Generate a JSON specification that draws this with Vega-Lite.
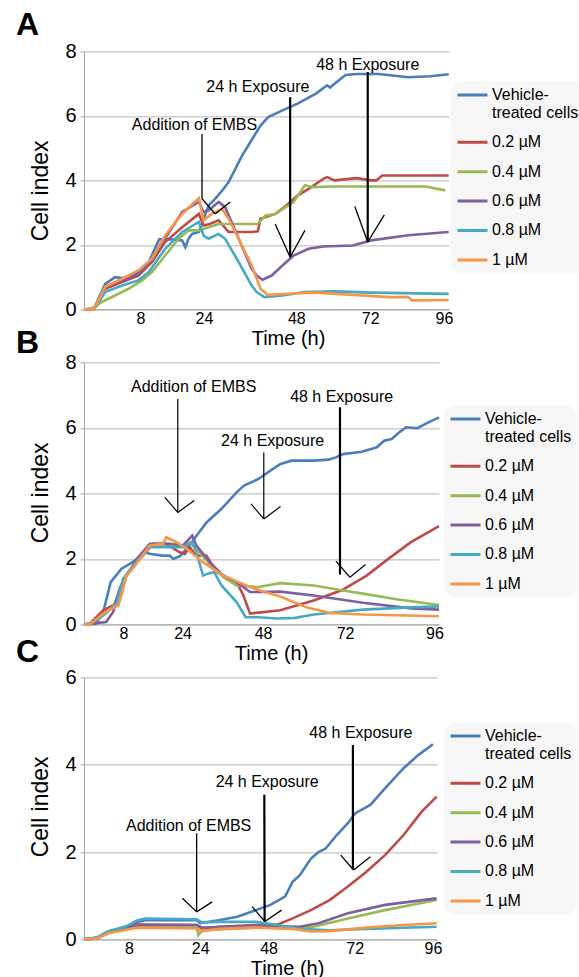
{
 "$schema": "https://vega.github.io/schema/vega-lite/v6.json",
 "padding": {"left": 16, "top": 8.4, "right": 0, "bottom": 0},
 "background": "white",
 "config": {
  "view": {"stroke": null},
  "font": "Liberation Sans",
  "axis": {"labelFont": "Liberation Sans", "titleFont": "Liberation Sans", "labelColor": "#000000", "titleColor": "#000000", "titleFontWeight": "normal", "domainColor": "#a6a6a6", "gridColor": "#b3b3b3", "tickColor": "#a6a6a6"},
  "legend": {"labelFont": "Liberation Sans", "orient": "none", "title": null, "symbolType": "stroke", "symbolSize": 900, "symbolStrokeWidth": 3, "labelFontSize": 16, "labelColor": "#000000", "labelOffset": 3, "labelLimit": 200, "rowPadding": 12.4, "clipHeight": 17, "padding": 5, "fillColor": "#f7f7f7", "cornerRadius": 12},
  "title": {"anchor": "start", "frame": "group", "fontSize": 32, "fontWeight": "bold", "color": "#000000", "font": "Liberation Sans", "baseline": "alphabetic", "dx": -68, "offset": 0}
 },
 "datasets": {
  "A": [
   {"s":"Vehicle-treated cells","t":0,"ci":0},{"s":"Vehicle-treated cells","t":1.4,"ci":0},{"s":"Vehicle-treated cells","t":3.0,"ci":0.79},{"s":"Vehicle-treated cells","t":4.4,"ci":1.0},{"s":"Vehicle-treated cells","t":5.4,"ci":0.97},{"s":"Vehicle-treated cells","t":7.5,"ci":1.12},{"s":"Vehicle-treated cells","t":10.1,"ci":1.47},{"s":"Vehicle-treated cells","t":12.7,"ci":2.17},{"s":"Vehicle-treated cells","t":15.9,"ci":2.17},{"s":"Vehicle-treated cells","t":18.5,"ci":2.14},{"s":"Vehicle-treated cells","t":19.3,"ci":1.93},{"s":"Vehicle-treated cells","t":20.1,"ci":2.19},{"s":"Vehicle-treated cells","t":21,"ci":2.34},{"s":"Vehicle-treated cells","t":22.7,"ci":2.4},{"s":"Vehicle-treated cells","t":23.6,"ci":2.7},{"s":"Vehicle-treated cells","t":25.2,"ci":3.22},{"s":"Vehicle-treated cells","t":26.9,"ci":3.43},{"s":"Vehicle-treated cells","t":29.1,"ci":3.74},{"s":"Vehicle-treated cells","t":30.4,"ci":3.95},{"s":"Vehicle-treated cells","t":33.9,"ci":4.77},{"s":"Vehicle-treated cells","t":38.7,"ci":5.7},{"s":"Vehicle-treated cells","t":40.7,"ci":5.96},{"s":"Vehicle-treated cells","t":44.4,"ci":6.17},{"s":"Vehicle-treated cells","t":48.4,"ci":6.38},{"s":"Vehicle-treated cells","t":54.4,"ci":6.69},{"s":"Vehicle-treated cells","t":58,"ci":6.95},{"s":"Vehicle-treated cells","t":59,"ci":6.88},{"s":"Vehicle-treated cells","t":59.8,"ci":6.95},{"s":"Vehicle-treated cells","t":64,"ci":7.27},{"s":"Vehicle-treated cells","t":67.6,"ci":7.3},{"s":"Vehicle-treated cells","t":74.8,"ci":7.3},{"s":"Vehicle-treated cells","t":84.4,"ci":7.2},{"s":"Vehicle-treated cells","t":91.6,"ci":7.23},{"s":"Vehicle-treated cells","t":97.5,"ci":7.29},
   {"s":"0.2 µM","t":0,"ci":0},{"s":"0.2 µM","t":1.4,"ci":0},{"s":"0.2 µM","t":3,"ci":0.64},{"s":"0.2 µM","t":5.4,"ci":0.85},{"s":"0.2 µM","t":7.7,"ci":1.05},{"s":"0.2 µM","t":10.9,"ci":1.47},{"s":"0.2 µM","t":14.2,"ci":2.09},{"s":"0.2 µM","t":18.5,"ci":2.55},{"s":"0.2 µM","t":22.7,"ci":2.96},{"s":"0.2 µM","t":23.9,"ci":2.6},{"s":"0.2 µM","t":25.5,"ci":2.65},{"s":"0.2 µM","t":27.8,"ci":2.76},{"s":"0.2 µM","t":30.4,"ci":2.4},{"s":"0.2 µM","t":36.4,"ci":2.4},{"s":"0.2 µM","t":38,"ci":2.42},{"s":"0.2 µM","t":38.7,"ci":2.81},{"s":"0.2 µM","t":42.5,"ci":2.96},{"s":"0.2 µM","t":45.4,"ci":3.22},{"s":"0.2 µM","t":48.4,"ci":3.53},{"s":"0.2 µM","t":52,"ci":3.74},{"s":"0.2 µM","t":56.8,"ci":4.05},{"s":"0.2 µM","t":58,"ci":4.1},{"s":"0.2 µM","t":60.4,"ci":4.0},{"s":"0.2 µM","t":67.6,"ci":4.07},{"s":"0.2 µM","t":72.3,"ci":4.0},{"s":"0.2 µM","t":74,"ci":4.0},{"s":"0.2 µM","t":75.9,"ci":4.15},{"s":"0.2 µM","t":97.5,"ci":4.15},
   {"s":"0.4 µM","t":0,"ci":0},{"s":"0.4 µM","t":1.4,"ci":0.05},{"s":"0.4 µM","t":2.5,"ci":0.23},{"s":"0.4 µM","t":4.4,"ci":0.43},{"s":"0.4 µM","t":6.3,"ci":0.64},{"s":"0.4 µM","t":8.4,"ci":0.9},{"s":"0.4 µM","t":10.9,"ci":1.16},{"s":"0.4 µM","t":14.2,"ci":1.67},{"s":"0.4 µM","t":17.6,"ci":2.19},{"s":"0.4 µM","t":20.1,"ci":2.45},{"s":"0.4 µM","t":22.7,"ci":2.45},{"s":"0.4 µM","t":25.2,"ci":2.55},{"s":"0.4 µM","t":27.8,"ci":2.65},{"s":"0.4 µM","t":36.4,"ci":2.65},{"s":"0.4 µM","t":38,"ci":2.65},{"s":"0.4 µM","t":40,"ci":2.91},{"s":"0.4 µM","t":42.5,"ci":2.96},{"s":"0.4 µM","t":47.3,"ci":3.33},{"s":"0.4 µM","t":50.8,"ci":3.85},{"s":"0.4 µM","t":53.2,"ci":3.79},{"s":"0.4 µM","t":60,"ci":3.81},{"s":"0.4 µM","t":90,"ci":3.81},{"s":"0.4 µM","t":96.4,"ci":3.69},
   {"s":"0.6 µM","t":0,"ci":0},{"s":"0.6 µM","t":1.4,"ci":0},{"s":"0.6 µM","t":3,"ci":0.7},{"s":"0.6 µM","t":5.4,"ci":0.9},{"s":"0.6 µM","t":7.7,"ci":1.1},{"s":"0.6 µM","t":10.9,"ci":1.55},{"s":"0.6 µM","t":14.2,"ci":2.2},{"s":"0.6 µM","t":18.5,"ci":3.02},{"s":"0.6 µM","t":22.7,"ci":3.33},{"s":"0.6 µM","t":23.9,"ci":3.02},{"s":"0.6 µM","t":25.2,"ci":3.07},{"s":"0.6 µM","t":27.8,"ci":3.33},{"s":"0.6 µM","t":29.5,"ci":3.17},{"s":"0.6 µM","t":33,"ci":2.2},{"s":"0.6 µM","t":36.4,"ci":1.26},{"s":"0.6 µM","t":37.7,"ci":1.05},{"s":"0.6 µM","t":39.2,"ci":0.92},{"s":"0.6 µM","t":41.6,"ci":1.05},{"s":"0.6 µM","t":44.4,"ci":1.36},{"s":"0.6 µM","t":47.3,"ci":1.67},{"s":"0.6 µM","t":52,"ci":1.88},{"s":"0.6 µM","t":56.8,"ci":1.95},{"s":"0.6 µM","t":66.4,"ci":1.98},{"s":"0.6 µM","t":72.3,"ci":2.14},{"s":"0.6 µM","t":84.4,"ci":2.3},{"s":"0.6 µM","t":97.5,"ci":2.4},
   {"s":"0.8 µM","t":0,"ci":0},{"s":"0.8 µM","t":1.4,"ci":0},{"s":"0.8 µM","t":3,"ci":0.54},{"s":"0.8 µM","t":5.4,"ci":0.74},{"s":"0.8 µM","t":7.7,"ci":0.9},{"s":"0.8 µM","t":10.1,"ci":1.16},{"s":"0.8 µM","t":14.2,"ci":1.88},{"s":"0.8 µM","t":18.5,"ci":2.4},{"s":"0.8 µM","t":22.7,"ci":2.71},{"s":"0.8 µM","t":23.9,"ci":2.29},{"s":"0.8 µM","t":25.2,"ci":2.19},{"s":"0.8 µM","t":27.8,"ci":2.34},{"s":"0.8 µM","t":29.5,"ci":2.19},{"s":"0.8 µM","t":33,"ci":1.47},{"s":"0.8 µM","t":36.4,"ci":0.74},{"s":"0.8 µM","t":37.7,"ci":0.54},{"s":"0.8 µM","t":39.7,"ci":0.38},{"s":"0.8 µM","t":44.4,"ci":0.43},{"s":"0.8 µM","t":50.8,"ci":0.54},{"s":"0.8 µM","t":60.4,"ci":0.56},{"s":"0.8 µM","t":72.3,"ci":0.52},{"s":"0.8 µM","t":97.5,"ci":0.48},
   {"s":"1 µM","t":0,"ci":0},{"s":"1 µM","t":1.4,"ci":0},{"s":"1 µM","t":3,"ci":0.7},{"s":"1 µM","t":5.4,"ci":0.95},{"s":"1 µM","t":7.7,"ci":1.21},{"s":"1 µM","t":10.9,"ci":1.57},{"s":"1 µM","t":14.2,"ci":2.29},{"s":"1 µM","t":18.5,"ci":2.96},{"s":"1 µM","t":22.7,"ci":3.45},{"s":"1 µM","t":23.9,"ci":2.76},{"s":"1 µM","t":26,"ci":2.96},{"s":"1 µM","t":28.7,"ci":3.12},{"s":"1 µM","t":30.4,"ci":2.81},{"s":"1 µM","t":33,"ci":2.19},{"s":"1 µM","t":36.4,"ci":1.36},{"s":"1 µM","t":38.7,"ci":0.64},{"s":"1 µM","t":40.6,"ci":0.45},{"s":"1 µM","t":48.4,"ci":0.5},{"s":"1 µM","t":54.4,"ci":0.52},{"s":"1 µM","t":66.4,"ci":0.45},{"s":"1 µM","t":78.1,"ci":0.38},{"s":"1 µM","t":84.4,"ci":0.38},{"s":"1 µM","t":85.6,"ci":0.28},{"s":"1 µM","t":97.5,"ci":0.29}
  ],
  "B": [
   {"s":"Vehicle-treated cells","t":0,"ci":0},{"s":"Vehicle-treated cells","t":2.4,"ci":0.02},{"s":"Vehicle-treated cells","t":3.9,"ci":0.38},{"s":"Vehicle-treated cells","t":5.4,"ci":1.29},{"s":"Vehicle-treated cells","t":7.6,"ci":1.7},{"s":"Vehicle-treated cells","t":10.5,"ci":1.9},{"s":"Vehicle-treated cells","t":13.5,"ci":2.2},{"s":"Vehicle-treated cells","t":15.5,"ci":2.15},{"s":"Vehicle-treated cells","t":18.5,"ci":2.1},{"s":"Vehicle-treated cells","t":20.5,"ci":2.1},{"s":"Vehicle-treated cells","t":21.5,"ci":2.0},{"s":"Vehicle-treated cells","t":23.5,"ci":2.1},{"s":"Vehicle-treated cells","t":26.7,"ci":2.51},{"s":"Vehicle-treated cells","t":31.2,"ci":3.12},{"s":"Vehicle-treated cells","t":35.6,"ci":3.53},{"s":"Vehicle-treated cells","t":40.1,"ci":4.03},{"s":"Vehicle-treated cells","t":42.3,"ci":4.24},{"s":"Vehicle-treated cells","t":46.6,"ci":4.44},{"s":"Vehicle-treated cells","t":50.9,"ci":4.75},{"s":"Vehicle-treated cells","t":53.1,"ci":4.9},{"s":"Vehicle-treated cells","t":56.3,"ci":5.0},{"s":"Vehicle-treated cells","t":62.8,"ci":5.0},{"s":"Vehicle-treated cells","t":67.1,"ci":5.03},{"s":"Vehicle-treated cells","t":69.3,"ci":5.1},{"s":"Vehicle-treated cells","t":71.4,"ci":5.2},{"s":"Vehicle-treated cells","t":76.5,"ci":5.27},{"s":"Vehicle-treated cells","t":80.5,"ci":5.41},{"s":"Vehicle-treated cells","t":82.5,"ci":5.61},{"s":"Vehicle-treated cells","t":84.5,"ci":5.66},{"s":"Vehicle-treated cells","t":86.5,"ci":5.86},{"s":"Vehicle-treated cells","t":88.4,"ci":6.02},{"s":"Vehicle-treated cells","t":91.4,"ci":5.99},{"s":"Vehicle-treated cells","t":94.4,"ci":6.17},{"s":"Vehicle-treated cells","t":97.3,"ci":6.32},
   {"s":"0.2 µM","t":0,"ci":0},{"s":"0.2 µM","t":1.2,"ci":0.02},{"s":"0.2 µM","t":3.9,"ci":0.43},{"s":"0.2 µM","t":5.9,"ci":0.58},{"s":"0.2 µM","t":6.9,"ci":0.58},{"s":"0.2 µM","t":8.8,"ci":1.49},{"s":"0.2 µM","t":12.4,"ci":2.0},{"s":"0.2 µM","t":16,"ci":2.46},{"s":"0.2 µM","t":19.6,"ci":2.46},{"s":"0.2 µM","t":23.2,"ci":2.2},{"s":"0.2 µM","t":24.7,"ci":2.15},{"s":"0.2 µM","t":26.1,"ci":2.36},{"s":"0.2 µM","t":28,"ci":2.1},{"s":"0.2 µM","t":31.1,"ci":2.1},{"s":"0.2 µM","t":34.1,"ci":1.6},{"s":"0.2 µM","t":40.1,"ci":1.29},{"s":"0.2 µM","t":42.1,"ci":0.89},{"s":"0.2 µM","t":44.1,"ci":0.33},{"s":"0.2 µM","t":46.6,"ci":0.36},{"s":"0.2 µM","t":53,"ci":0.43},{"s":"0.2 µM","t":62.8,"ci":0.73},{"s":"0.2 µM","t":71,"ci":1.04},{"s":"0.2 µM","t":77.8,"ci":1.49},{"s":"0.2 µM","t":83.6,"ci":2.0},{"s":"0.2 µM","t":89.7,"ci":2.51},{"s":"0.2 µM","t":97.3,"ci":3.0},
   {"s":"0.4 µM","t":0,"ci":0},{"s":"0.4 µM","t":1.2,"ci":0},{"s":"0.4 µM","t":3.9,"ci":0.3},{"s":"0.4 µM","t":5.9,"ci":0.55},{"s":"0.4 µM","t":7.2,"ci":1.0},{"s":"0.4 µM","t":8.8,"ci":1.5},{"s":"0.4 µM","t":12.4,"ci":2.05},{"s":"0.4 µM","t":16,"ci":2.45},{"s":"0.4 µM","t":20.5,"ci":2.45},{"s":"0.4 µM","t":24.1,"ci":2.4},{"s":"0.4 µM","t":26.1,"ci":2.5},{"s":"0.4 µM","t":28.1,"ci":2.3},{"s":"0.4 µM","t":32.1,"ci":1.85},{"s":"0.4 µM","t":36.1,"ci":1.45},{"s":"0.4 µM","t":40.1,"ci":1.19},{"s":"0.4 µM","t":46.6,"ci":1.14},{"s":"0.4 µM","t":53,"ci":1.26},{"s":"0.4 µM","t":62.8,"ci":1.19},{"s":"0.4 µM","t":71,"ci":1.04},{"s":"0.4 µM","t":76.8,"ci":0.94},{"s":"0.4 µM","t":85.8,"ci":0.77},{"s":"0.4 µM","t":97.3,"ci":0.59},
   {"s":"0.6 µM","t":0,"ci":0},{"s":"0.6 µM","t":4.5,"ci":0.07},{"s":"0.6 µM","t":5.9,"ci":0.38},{"s":"0.6 µM","t":7.2,"ci":1.09},{"s":"0.6 µM","t":8.8,"ci":1.5},{"s":"0.6 µM","t":12.4,"ci":2.1},{"s":"0.6 µM","t":15.1,"ci":2.46},{"s":"0.6 µM","t":20.5,"ci":2.46},{"s":"0.6 µM","t":24.1,"ci":2.41},{"s":"0.6 µM","t":26.9,"ci":2.71},{"s":"0.6 µM","t":28.1,"ci":2.41},{"s":"0.6 µM","t":32.1,"ci":1.9},{"s":"0.6 µM","t":36.1,"ci":1.49},{"s":"0.6 µM","t":40.1,"ci":1.29},{"s":"0.6 µM","t":44.1,"ci":0.99},{"s":"0.6 µM","t":46.6,"ci":0.99},{"s":"0.6 µM","t":53,"ci":1.0},{"s":"0.6 µM","t":62.8,"ci":0.88},{"s":"0.6 µM","t":76.8,"ci":0.66},{"s":"0.6 µM","t":89.7,"ci":0.49},{"s":"0.6 µM","t":97.3,"ci":0.45},
   {"s":"0.8 µM","t":0,"ci":0},{"s":"0.8 µM","t":1.2,"ci":0},{"s":"0.8 µM","t":3.9,"ci":0.27},{"s":"0.8 µM","t":6.6,"ci":0.63},{"s":"0.8 µM","t":7.9,"ci":1.39},{"s":"0.8 µM","t":11.5,"ci":1.9},{"s":"0.8 µM","t":15.1,"ci":2.36},{"s":"0.8 µM","t":20.5,"ci":2.36},{"s":"0.8 µM","t":24.1,"ci":2.36},{"s":"0.8 µM","t":26.1,"ci":2.46},{"s":"0.8 µM","t":27.1,"ci":2.5},{"s":"0.8 µM","t":28.1,"ci":2.2},{"s":"0.8 µM","t":30.1,"ci":1.49},{"s":"0.8 µM","t":31.5,"ci":1.55},{"s":"0.8 µM","t":33.4,"ci":1.6},{"s":"0.8 µM","t":35.6,"ci":1.19},{"s":"0.8 µM","t":40.1,"ci":0.68},{"s":"0.8 µM","t":42.8,"ci":0.22},{"s":"0.8 µM","t":46.6,"ci":0.22},{"s":"0.8 µM","t":52,"ci":0.18},{"s":"0.8 µM","t":57.4,"ci":0.2},{"s":"0.8 µM","t":62.8,"ci":0.3},{"s":"0.8 µM","t":76.8,"ci":0.45},{"s":"0.8 µM","t":89.7,"ci":0.52},{"s":"0.8 µM","t":97.3,"ci":0.55},
   {"s":"1 µM","t":0,"ci":0},{"s":"1 µM","t":1.2,"ci":0},{"s":"1 µM","t":3.9,"ci":0.33},{"s":"1 µM","t":6.9,"ci":0.58},{"s":"1 µM","t":8.8,"ci":1.49},{"s":"1 µM","t":11.5,"ci":1.85},{"s":"1 µM","t":15.1,"ci":2.41},{"s":"1 µM","t":18.7,"ci":2.46},{"s":"1 µM","t":19.6,"ci":2.66},{"s":"1 µM","t":22.3,"ci":2.51},{"s":"1 µM","t":25.2,"ci":2.31},{"s":"1 µM","t":30.1,"ci":1.9},{"s":"1 µM","t":36.1,"ci":1.49},{"s":"1 µM","t":44.1,"ci":1.14},{"s":"1 µM","t":46.6,"ci":1.05},{"s":"1 µM","t":53,"ci":0.85},{"s":"1 µM","t":60.7,"ci":0.52},{"s":"1 µM","t":67.6,"ci":0.35},{"s":"1 µM","t":76.8,"ci":0.3},{"s":"1 µM","t":88.4,"ci":0.27},{"s":"1 µM","t":97.3,"ci":0.25}
  ],
  "C": [
   {"s":"Vehicle-treated cells","t":0,"ci":0},{"s":"Vehicle-treated cells","t":2.3,"ci":0.04},{"s":"Vehicle-treated cells","t":4.3,"ci":0.18},{"s":"Vehicle-treated cells","t":7.5,"ci":0.29},{"s":"Vehicle-treated cells","t":9.9,"ci":0.4},{"s":"Vehicle-treated cells","t":11.6,"ci":0.44},{"s":"Vehicle-treated cells","t":15.7,"ci":0.44},{"s":"Vehicle-treated cells","t":23.2,"ci":0.44},{"s":"Vehicle-treated cells","t":24,"ci":0.37},{"s":"Vehicle-treated cells","t":30.5,"ci":0.44},{"s":"Vehicle-treated cells","t":37,"ci":0.52},{"s":"Vehicle-treated cells","t":43.5,"ci":0.67},{"s":"Vehicle-treated cells","t":48.5,"ci":0.79},{"s":"Vehicle-treated cells","t":52.6,"ci":0.98},{"s":"Vehicle-treated cells","t":54.7,"ci":1.32},{"s":"Vehicle-treated cells","t":56.7,"ci":1.47},{"s":"Vehicle-treated cells","t":59.8,"ci":1.85},{"s":"Vehicle-treated cells","t":61.9,"ci":2.0},{"s":"Vehicle-treated cells","t":63.9,"ci":2.08},{"s":"Vehicle-treated cells","t":67,"ci":2.39},{"s":"Vehicle-treated cells","t":70.1,"ci":2.66},{"s":"Vehicle-treated cells","t":72.2,"ci":2.89},{"s":"Vehicle-treated cells","t":76.8,"ci":3.08},{"s":"Vehicle-treated cells","t":81.3,"ci":3.46},{"s":"Vehicle-treated cells","t":87,"ci":3.92},{"s":"Vehicle-treated cells","t":91.5,"ci":4.22},{"s":"Vehicle-treated cells","t":96,"ci":4.47},
   {"s":"0.2 µM","t":0,"ci":0},{"s":"0.2 µM","t":2.3,"ci":0.03},{"s":"0.2 µM","t":4.3,"ci":0.16},{"s":"0.2 µM","t":7.5,"ci":0.27},{"s":"0.2 µM","t":9.9,"ci":0.34},{"s":"0.2 µM","t":23.2,"ci":0.33},{"s":"0.2 µM","t":24.7,"ci":0.24},{"s":"0.2 µM","t":30.5,"ci":0.29},{"s":"0.2 µM","t":43.5,"ci":0.33},{"s":"0.2 µM","t":50.6,"ci":0.34},{"s":"0.2 µM","t":54.7,"ci":0.48},{"s":"0.2 µM","t":59.8,"ci":0.67},{"s":"0.2 µM","t":65,"ci":0.9},{"s":"0.2 µM","t":70.1,"ci":1.21},{"s":"0.2 µM","t":75.6,"ci":1.55},{"s":"0.2 µM","t":81.3,"ci":1.93},{"s":"0.2 µM","t":87,"ci":2.39},{"s":"0.2 µM","t":92.5,"ci":2.92},{"s":"0.2 µM","t":97,"ci":3.27},
   {"s":"0.4 µM","t":0,"ci":0},{"s":"0.4 µM","t":2.3,"ci":0.02},{"s":"0.4 µM","t":4.3,"ci":0.14},{"s":"0.4 µM","t":7.5,"ci":0.24},{"s":"0.4 µM","t":9.9,"ci":0.29},{"s":"0.4 µM","t":23.2,"ci":0.27},{"s":"0.4 µM","t":23.6,"ci":0.1},{"s":"0.4 µM","t":24.7,"ci":0.21},{"s":"0.4 µM","t":43.5,"ci":0.27},{"s":"0.4 µM","t":54.7,"ci":0.27},{"s":"0.4 µM","t":60.5,"ci":0.29},{"s":"0.4 µM","t":70.1,"ci":0.48},{"s":"0.4 µM","t":81.3,"ci":0.67},{"s":"0.4 µM","t":97,"ci":0.9},
   {"s":"0.6 µM","t":0,"ci":0},{"s":"0.6 µM","t":2.3,"ci":0.02},{"s":"0.6 µM","t":4.3,"ci":0.15},{"s":"0.6 µM","t":7.5,"ci":0.26},{"s":"0.6 µM","t":9.9,"ci":0.33},{"s":"0.6 µM","t":23.2,"ci":0.33},{"s":"0.6 µM","t":24.7,"ci":0.27},{"s":"0.6 µM","t":43.5,"ci":0.31},{"s":"0.6 µM","t":56.7,"ci":0.29},{"s":"0.6 µM","t":61.9,"ci":0.37},{"s":"0.6 µM","t":70.1,"ci":0.6},{"s":"0.6 µM","t":81.3,"ci":0.79},{"s":"0.6 µM","t":97,"ci":0.94},
   {"s":"0.8 µM","t":0,"ci":0},{"s":"0.8 µM","t":2.3,"ci":0.04},{"s":"0.8 µM","t":4.3,"ci":0.18},{"s":"0.8 µM","t":7.5,"ci":0.3},{"s":"0.8 µM","t":9.9,"ci":0.44},{"s":"0.8 µM","t":11.6,"ci":0.48},{"s":"0.8 µM","t":23.2,"ci":0.46},{"s":"0.8 µM","t":24.7,"ci":0.39},{"s":"0.8 µM","t":30.5,"ci":0.4},{"s":"0.8 µM","t":43.5,"ci":0.4},{"s":"0.8 µM","t":50.6,"ci":0.33},{"s":"0.8 µM","t":56.7,"ci":0.24},{"s":"0.8 µM","t":65,"ci":0.21},{"s":"0.8 µM","t":75.6,"ci":0.24},{"s":"0.8 µM","t":97,"ci":0.29},
   {"s":"1 µM","t":0,"ci":0},{"s":"1 µM","t":2.3,"ci":0.02},{"s":"1 µM","t":4.3,"ci":0.14},{"s":"1 µM","t":7.5,"ci":0.22},{"s":"1 µM","t":9.9,"ci":0.27},{"s":"1 µM","t":23.2,"ci":0.25},{"s":"1 µM","t":24.7,"ci":0.19},{"s":"1 µM","t":30.5,"ci":0.24},{"s":"1 µM","t":43.5,"ci":0.27},{"s":"1 µM","t":54.7,"ci":0.24},{"s":"1 µM","t":59.8,"ci":0.18},{"s":"1 µM","t":65,"ci":0.19},{"s":"1 µM","t":75.6,"ci":0.27},{"s":"1 µM","t":87,"ci":0.33},{"s":"1 µM","t":97,"ci":0.37}
  ],
  "Aarrow": [
   {"t":23.5,"ci":5.44,"t2":23.5,"ci2":3.43,"w":"thin"},{"t":23.5,"ci":3.43,"t2":26.9,"ci2":2.96,"w":"thin"},{"t":26.9,"ci":2.96,"t2":30.8,"ci2":3.33,"w":"thin"},
   {"t":46.4,"ci":6.58,"t2":46.4,"ci2":1.62,"w":"thick"},{"t":42.5,"ci":2.65,"t2":46.4,"ci2":1.62,"w":"thin"},{"t":46.4,"ci":1.62,"t2":50.8,"ci2":2.45,"w":"thin"},
   {"t":71.2,"ci":7.36,"t2":71.2,"ci2":2.09,"w":"thick"},{"t":67,"ci":3.19,"t2":71.2,"ci2":2.09,"w":"thin"},{"t":71.2,"ci":2.09,"t2":76.6,"ci2":2.93,"w":"thin"}
  ],
  "Atext": [{"txt":"Addition of EMBS","t":21.6,"ci":5.71},{"txt":"24 h Exposure","t":38,"ci":6.89},{"txt":"48 h Exposure","t":71.2,"ci":7.57}],
  "Barrow": [
   {"t":22.7,"ci":6.88,"t2":22.7,"ci2":3.42,"w":"thin"},{"t":19.2,"ci":3.88,"t2":22.7,"ci2":3.42,"w":"thin"},{"t":22.7,"ci":3.42,"t2":27.5,"ci2":3.78,"w":"thin"},
   {"t":48.2,"ci":5.25,"t2":48.2,"ci2":3.22,"w":"thin"},{"t":44.4,"ci":3.68,"t2":48.2,"ci2":3.22,"w":"thin"},{"t":48.2,"ci":3.22,"t2":53.1,"ci2":3.6,"w":"thin"},
   {"t":70.5,"ci":6.63,"t2":70.5,"ci2":1.52,"w":"thick"},{"t":69.3,"ci":1.93,"t2":73.3,"ci2":1.44,"w":"thin"},{"t":73.3,"ci":1.44,"t2":77.5,"ci2":1.83,"w":"thin"}
  ],
  "Btext": [{"txt":"Addition of EMBS","t":27.3,"ci":7.26},{"txt":"24 h Exposure","t":50.8,"ci":5.61},{"txt":"48 h Exposure","t":71,"ci":6.93}],
  "Carrow": [
   {"t":23.2,"ci":2.43,"t2":23.2,"ci2":0.63,"w":"thin"},{"t":20,"ci":0.94,"t2":23.2,"ci2":0.63,"w":"thin"},{"t":23.2,"ci":0.63,"t2":28.2,"ci2":0.86,"w":"thin"},
   {"t":46.5,"ci":3.31,"t2":46.6,"ci2":0.41,"w":"thick"},{"t":42.2,"ci":0.75,"t2":46.7,"ci2":0.41,"w":"thin"},{"t":46.7,"ci":0.41,"t2":51.6,"ci2":0.67,"w":"thin"},
   {"t":71.5,"ci":4.45,"t2":71.5,"ci2":1.59,"w":"thick"},{"t":68.1,"ci":1.93,"t2":71.7,"ci2":1.59,"w":"thin"},{"t":71.7,"ci":1.59,"t2":76.8,"ci2":1.89,"w":"thin"}
  ],
  "Ctext": [{"txt":"Addition of EMBS","t":21.4,"ci":2.6},{"txt":"24 h Exposure","t":47.5,"ci":3.6},{"txt":"48 h Exposure","t":73.9,"ci":4.72}]
 },
 "spacing": 53,
 "bounds": "flush",
 "resolve": {"scale": {"color": "independent", "x": "independent", "y": "independent", "strokeWidth": "independent"}, "legend": {"color": "independent"}},
 "vconcat": [
  {
   "title": {"text": "A", "dy": 4.7},
   "width": 365, "height": 258,
   "encoding": {
    "x": {"field": "t", "type": "quantitative", "scale": {"domain": [0, 8, 24, 48, 72, 96, 97.6], "range": [0, 56.5, 120, 212.3, 286.2, 360, 365], "nice": false, "zero": false},
          "axis": {"values": [8, 24, 48, 72, 96], "title": "Time (h)", "titleFontSize": 20, "labelFontSize": 16, "ticks": false, "grid": false, "labelPadding": 1, "labelFlush": false, "labelOverlap": false, "titleX": 204, "titleY": 29, "titleBaseline": "middle"}},
    "y": {"field": "ci", "type": "quantitative", "scale": {"domain": [0, 8], "nice": false},
          "axis": {"values": [0, 2, 4, 6, 8], "title": "Cell index", "titleFontSize": 23, "labelFontSize": 20, "ticks": true, "tickSize": 4, "labelPadding": 4, "grid": true, "titleX": -44, "titleY": 139, "titleBaseline": "middle", "titleAngle": -90}}
   },
   "layer": [
    {"data": {"name": "A"}, "mark": {"type": "line", "strokeWidth": 2.6},
     "encoding": {
      "color": {"field": "s", "type": "nominal", "scale": {"domain": ["Vehicle-treated cells", "0.2 µM", "0.4 µM", "0.6 µM", "0.8 µM", "1 µM"], "range": ["#4a7ebb", "#be4b48", "#98b954", "#7d60a0", "#46aac5", "#f79646"]},
                "legend": {"legendX": 367, "legendY": 30, "labelExpr": "datum.label == 'Vehicle-treated cells' ? ['Vehicle-', 'treated cells'] : datum.label"}}
     }},
    {"data": {"name": "Aarrow"}, "mark": {"type": "rule", "color": "#000000"},
     "encoding": {"x2": {"field": "t2"}, "y2": {"field": "ci2"},
      "strokeWidth": {"field": "w", "type": "nominal", "scale": {"domain": ["thin", "thick"], "range": [1.3, 2.2]}, "legend": null}}},
    {"data": {"name": "Atext"}, "mark": {"type": "text", "fontSize": 16, "color": "#000000", "font": "Liberation Sans"},
     "encoding": {"text": {"field": "txt"}}}
   ]
  },
  {
   "title": {"text": "B", "dy": 11.2},
   "width": 355, "height": 262,
   "encoding": {
    "x": {"field": "t", "type": "quantitative", "scale": {"domain": [0, 8, 24, 48, 72, 96, 97.3], "range": [0, 39.5, 98.6, 179.1, 261.1, 350.4, 355], "nice": false, "zero": false},
          "axis": {"values": [8, 24, 48, 72, 96], "title": "Time (h)", "titleFontSize": 20, "labelFontSize": 16, "ticks": false, "grid": false, "labelPadding": 1, "labelFlush": false, "labelOverlap": false, "titleX": 187, "titleY": 29.5, "titleBaseline": "middle"}},
    "y": {"field": "ci", "type": "quantitative", "scale": {"domain": [0, 8], "nice": false},
          "axis": {"values": [0, 2, 4, 6, 8], "title": "Cell index", "titleFontSize": 23, "labelFontSize": 20, "ticks": true, "tickSize": 4, "labelPadding": 4, "grid": true, "titleX": -44, "titleY": 130, "titleBaseline": "middle", "titleAngle": -90}}
   },
   "layer": [
    {"data": {"name": "B"}, "mark": {"type": "line", "strokeWidth": 2.6},
     "encoding": {
      "color": {"field": "s", "type": "nominal", "scale": {"domain": ["Vehicle-treated cells", "0.2 µM", "0.4 µM", "0.6 µM", "0.8 µM", "1 µM"], "range": ["#4a7ebb", "#be4b48", "#98b954", "#7d60a0", "#46aac5", "#f79646"]},
                "legend": {"legendX": 360, "legendY": 43, "labelExpr": "datum.label == 'Vehicle-treated cells' ? ['Vehicle-', 'treated cells'] : datum.label"}}
     }},
    {"data": {"name": "Barrow"}, "mark": {"type": "rule", "color": "#000000"},
     "encoding": {"x2": {"field": "t2"}, "y2": {"field": "ci2"},
      "strokeWidth": {"field": "w", "type": "nominal", "scale": {"domain": ["thin", "thick"], "range": [1.2, 2.2]}, "legend": null}}},
    {"data": {"name": "Btext"}, "mark": {"type": "text", "fontSize": 16, "color": "#000000", "font": "Liberation Sans"},
     "encoding": {"text": {"field": "txt"}}}
   ]
  },
  {
   "title": {"text": "C", "dy": 5.8},
   "width": 353, "height": 262,
   "encoding": {
    "x": {"field": "t", "type": "quantitative", "scale": {"domain": [0, 8, 24, 48, 72, 96, 97.1], "range": [0, 45, 116.2, 184.6, 270.7, 348.9, 353], "nice": false, "zero": false},
          "axis": {"values": [8, 24, 48, 72, 96], "title": "Time (h)", "titleFontSize": 20, "labelFontSize": 16, "ticks": false, "grid": false, "labelPadding": 1, "labelFlush": false, "labelOverlap": false, "titleX": 203, "titleY": 29.5, "titleBaseline": "middle"}},
    "y": {"field": "ci", "type": "quantitative", "scale": {"domain": [0, 6], "nice": false},
          "axis": {"values": [0, 2, 4, 6], "title": "Cell index", "titleFontSize": 23, "labelFontSize": 20, "ticks": true, "tickSize": 4, "labelPadding": 4, "grid": true, "titleX": -44, "titleY": 129, "titleBaseline": "middle", "titleAngle": -90}}
   },
   "layer": [
    {"data": {"name": "C"}, "mark": {"type": "line", "strokeWidth": 2.6},
     "encoding": {
      "color": {"field": "s", "type": "nominal", "scale": {"domain": ["Vehicle-treated cells", "0.2 µM", "0.4 µM", "0.6 µM", "0.8 µM", "1 µM"], "range": ["#4a7ebb", "#be4b48", "#98b954", "#7d60a0", "#46aac5", "#f79646"]},
                "legend": {"legendX": 360, "legendY": 45, "labelExpr": "datum.label == 'Vehicle-treated cells' ? ['Vehicle-', 'treated cells'] : datum.label"}}
     }},
    {"data": {"name": "Carrow"}, "mark": {"type": "rule", "color": "#000000"},
     "encoding": {"x2": {"field": "t2"}, "y2": {"field": "ci2"},
      "strokeWidth": {"field": "w", "type": "nominal", "scale": {"domain": ["thin", "thick"], "range": [1.3, 2.2]}, "legend": null}}},
    {"data": {"name": "Ctext"}, "mark": {"type": "text", "fontSize": 16, "color": "#000000", "font": "Liberation Sans"},
     "encoding": {"text": {"field": "txt"}}}
   ]
  }
 ]
}
